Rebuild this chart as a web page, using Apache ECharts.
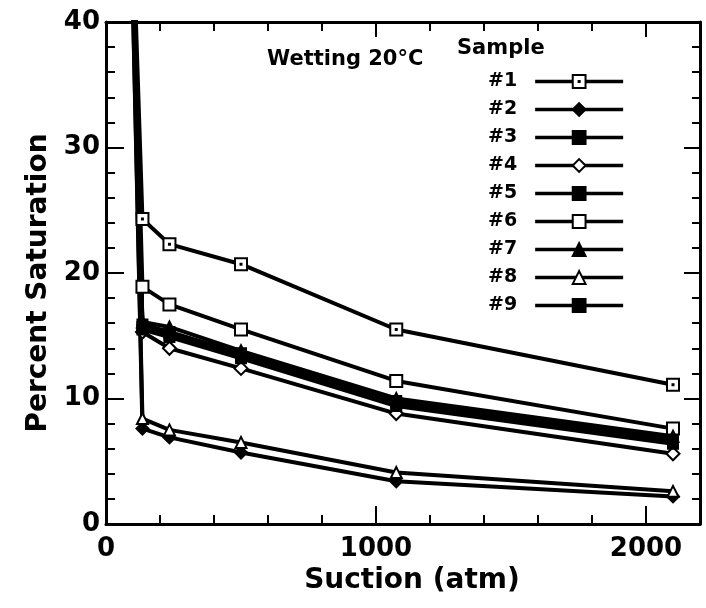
<!DOCTYPE html>
<html><head><meta charset="utf-8">
<script src="https://cdn.jsdelivr.net/npm/echarts@6/dist/echarts.min.js"></script>
<style>html,body{margin:0;padding:0;background:#fff}#c{width:706px;height:608px}</style>
</head><body><div id="c"></div>
<script>
// Suction (atm); first point is the steep low-suction rise that leaves the plot top
const suction = [80, 135, 235, 500, 1075, 2100];
const sampleNames = ['#1', '#2', '#3', '#4', '#5', '#6', '#7', '#8', '#9'];
const s1 = [60, 24.3, 22.3, 20.7, 15.5, 11.1];
const s2 = [60, 7.6, 6.9, 5.7, 3.4, 2.2];
const s3 = [60, 15.9, 15.3, 13.6, 9.8, 6.8];
const s4 = [60, 15.3, 14.0, 12.4, 8.8, 5.6];
const s5 = [60, 15.7, 15.1, 13.4, 9.6, 6.6];
const s6 = [60, 18.9, 17.5, 15.5, 11.4, 7.6];
const s7 = [60, 16.1, 15.7, 13.8, 10.0, 7.0];
const s8 = [60, 8.4, 7.5, 6.5, 4.1, 2.6];
const s9 = [60, 15.5, 14.9, 13.2, 9.4, 6.4];
const xTickLabels = [0, 1000, 2000];
const yTickLabels = [0, 10, 20, 30, 40];

const seriesValues = [s1, s2, s3, s4, s5, s6, s7, s8, s9];
const FONT = 'DejaVu Sans';
const dotSquare = 'path://M0,0H12V12H0Z M5.5,5.5H6.5V6.5H5.5Z';
const markers = [
  {symbol: dotSquare, fill: '#fff', size: 12},
  {symbol: 'diamond', fill: '#000', size: 12},
  {symbol: 'rect', fill: '#000', size: 10},
  {symbol: 'diamond', fill: '#fff', size: 13},
  {symbol: 'rect', fill: '#000', size: 10},
  {symbol: 'rect', fill: '#fff', size: 12},
  {symbol: 'triangle', fill: '#000', size: 11},
  {symbol: 'triangle', fill: '#fff', size: 11},
  {symbol: 'rect', fill: '#000', size: 10}
];

const series = sampleNames.map((name, i) => ({
  name: name,
  type: 'line',
  clip: true,
  symbol: markers[i].symbol,
  symbolSize: markers[i].size,
  itemStyle: {color: markers[i].fill, borderColor: '#000', borderWidth: 2},
  lineStyle: {color: '#000', width: 4},
  emphasis: {disabled: true},
  data: suction.map((x, k) => k === 0 ? {value: [x, seriesValues[i][k]], symbol: 'none'} : [x, seriesValues[i][k]])
}));

const axLine = {show: true, onZero: false, lineStyle: {color: '#000', width: 3}};
const noLine = {show: false, onZero: false};
const tickStyle = {color: '#000', width: 2};
const hidden = {show: false};

const option = {
  animation: false,
  backgroundColor: '#fff',
  grid: {left: 106, right: 6, top: 22, bottom: 84, containLabel: false},
  xAxis: [
    {type: 'value', position: 'bottom', min: 0, max: 2200, interval: 200,
     axisLine: axLine, axisTick: {inside: true, length: 9, lineStyle: tickStyle},
     axisLabel: hidden, splitLine: hidden},
    {type: 'value', position: 'bottom', min: 0, max: 2200, interval: 1000,
     axisLine: noLine, axisTick: {inside: true, length: 18, lineStyle: tickStyle},
     axisLabel: {show: true, margin: 12, color: '#000', fontFamily: FONT, fontWeight: 'bold', fontSize: 26,
       formatter: v => xTickLabels.indexOf(v) >= 0 ? String(v) : ''},
     splitLine: hidden,
     name: 'Suction (atm)', nameLocation: 'middle', nameGap: 38,
     nameTextStyle: {color: '#000', fontFamily: FONT, fontWeight: 'bold', fontSize: 28, padding: [0, 0, 0, 18]}},
    {type: 'value', position: 'top', min: 0, max: 2200, interval: 200,
     axisLine: axLine, axisTick: {inside: true, length: 9, lineStyle: tickStyle},
     axisLabel: hidden, splitLine: hidden},
    {type: 'value', position: 'top', min: 0, max: 2200, interval: 1000,
     axisLine: noLine, axisTick: {inside: true, length: 15, lineStyle: tickStyle},
     axisLabel: hidden, splitLine: hidden}
  ],
  yAxis: [
    {type: 'value', position: 'left', min: 0, max: 40, interval: 2,
     axisLine: axLine, axisTick: {inside: true, length: 9, lineStyle: tickStyle},
     axisLabel: hidden, splitLine: hidden},
    {type: 'value', position: 'left', min: 0, max: 40, interval: 10,
     axisLine: noLine, axisTick: {inside: true, length: 18, lineStyle: tickStyle},
     axisLabel: {show: true, margin: 6, color: '#000', fontFamily: FONT, fontWeight: 'bold', fontSize: 26,
       formatter: v => yTickLabels.indexOf(v) >= 0 ? String(v) : ''},
     splitLine: hidden,
     name: 'Percent Saturation', nameLocation: 'middle', nameGap: 52,
     nameTextStyle: {color: '#000', fontFamily: FONT, fontWeight: 'bold', fontSize: 28, padding: [0, 20, 0, 0]}},
    {type: 'value', position: 'right', min: 0, max: 40, interval: 2,
     axisLine: axLine, axisTick: {inside: true, length: 8, lineStyle: tickStyle},
     axisLabel: hidden, splitLine: hidden},
    {type: 'value', position: 'right', min: 0, max: 40, interval: 10,
     axisLine: noLine, axisTick: {inside: true, length: 16, lineStyle: tickStyle},
     axisLabel: hidden, splitLine: hidden}
  ],
  legend: {
    orient: 'vertical', align: 'right', left: 483, top: 67,
    itemWidth: 88, itemHeight: 16, itemGap: 9,
    selectedMode: false,
    data: sampleNames,
    lineStyle: {width: 3.5, color: '#000'},
    textStyle: {color: '#000', fontFamily: FONT, fontWeight: 'bold', fontSize: 19, padding: [0, 13, 0, 0]}
  },
  graphic: [
    {type: 'text', left: 267, top: 49, silent: true,
     style: {text: 'Wetting 20°C', fill: '#000', font: 'bold 21px "DejaVu Sans"'}},
    {type: 'text', left: 457, top: 38, silent: true,
     style: {text: 'Sample', fill: '#000', font: 'bold 21px "DejaVu Sans"'}}
  ],
  series: series
};

const chart = echarts.init(document.getElementById('c'), null, {renderer: 'canvas'});
chart.setOption(option);
</script>
</body></html>
